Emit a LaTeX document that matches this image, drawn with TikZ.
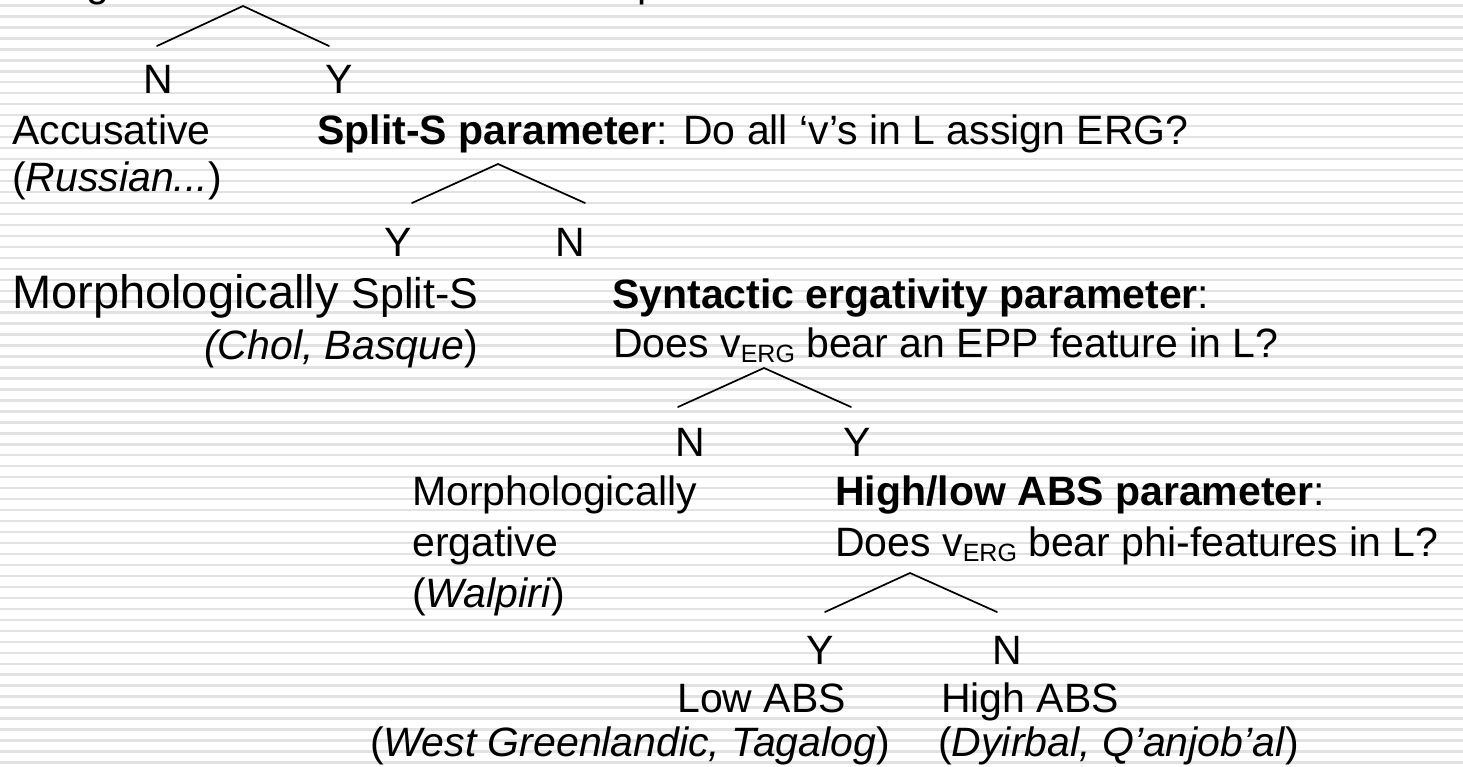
\documentclass[tikz,border=0pt]{standalone}
\usepackage{fontspec}
\setmainfont{Liberation Sans}
\newcommand{\vsub}[1]{v{\fontsize{25}{25}\selectfont\raisebox{-5pt}{#1}}}
\tikzset{
  txt/.style={anchor=base west, inner sep=0pt, font=\fontsize{41}{49}\selectfont},
  big/.style={txt, font=\fontsize{47}{56}\selectfont},
  yn/.style={anchor=base, inner sep=0pt, font=\fontsize{41}{49}\selectfont},
  branch/.style={line width=1.7pt, line cap=round, line join=miter},
  stripe/.style={line width=2.4pt, draw={rgb,255:red,226;green,226;blue,226}},
}
\begin{document}
\begin{tikzpicture}[x=1pt, y=-1pt]
  \useasboundingbox (0,0) rectangle (1463,767);
  \clip (0,0) rectangle (1463,767);
  \fill[white] (0,0) rectangle (1463,767);
  % ruled background
  \foreach \k in {0,...,70} {
    \draw[stripe] (0,{5.5+10.97*\k}) -- (1463,{5.5+10.97*\k});
  }

  % descenders of the line above the top edge
  \node[txt] (topg) at (86,-3) {g};
  \node[txt] (topp) at (637,-3) {p};

  % first split
  \coordinate (a1) at (243,6);
  \coordinate (a1l) at (157,46);
  \coordinate (a1r) at (329,46);
  \draw[branch] (a1l) -- (a1) -- (a1r);
  \node[yn] (n1) at (158,94) {N};
  \node[yn] (y1) at (339,94) {Y};
  \node[txt] (acc) at (12,145) {Accusative};
  \node[txt] (rus) at (12,192) {(\textit{Russian...})};
  \node[txt] (splits) at (317,145) {\textbf{Split-S parameter}: Do all ‘v’s in L assign ERG?};

  % second split
  \coordinate (a2) at (498,164);
  \coordinate (a2l) at (412,203);
  \coordinate (a2r) at (585,203);
  \draw[branch] (a2l) -- (a2) -- (a2r);
  \node[yn] (y2) at (398,257) {Y};
  \node[yn] (n2) at (570,257) {N};
  \node[big] (morphs) at (12,308) {Morphologically \fontsize{43}{51}\selectfont Split-S};
  \node[txt] (chol) at (204,359) {\textit{(Chol, Basque})};
  \node[txt] (synt) at (612,308) {\textbf{Syntactic ergativity parameter}:};
  \node[txt] (epp) at (613,357) {Does \vsub{ERG} bear an EPP feature in L?};

  % third split
  \coordinate (a3) at (764,368);
  \coordinate (a3l) at (678,407);
  \coordinate (a3r) at (851,407);
  \draw[branch] (a3l) -- (a3) -- (a3r);
  \node[yn] (n3) at (690,456) {N};
  \node[yn] (y3) at (857,456) {Y};
  \node[txt] (morph) at (412,505) {Morphologically};
  \node[txt] (ergv) at (412,556) {ergative};
  \node[txt] (walp) at (412,607) {(\textit{Walpiri})};
  \node[txt] (hilo) at (835,505) {\textbf{High/low ABS parameter}:};
  \node[txt] (phi) at (835,556) {Does \vsub{ERG} bear phi-features in L?};

  % fourth split
  \coordinate (a4) at (910,573);
  \coordinate (a4l) at (825,612);
  \coordinate (a4r) at (997,612);
  \draw[branch] (a4l) -- (a4) -- (a4r);
  \node[yn] (y4) at (820,664) {Y};
  \node[yn] (n4) at (1007,664) {N};
  \node[txt] (lowabs) at (677,712) {Low ABS};
  \node[txt] (highabs) at (941,712) {High ABS};
  \node[txt] (wg) at (370,756) {(\textit{West Greenlandic, Tagalog})};
  \node[txt] (dy) at (938,756) {(\textit{Dyirbal, Q’anjob’al})};
\end{tikzpicture}
\end{document}
